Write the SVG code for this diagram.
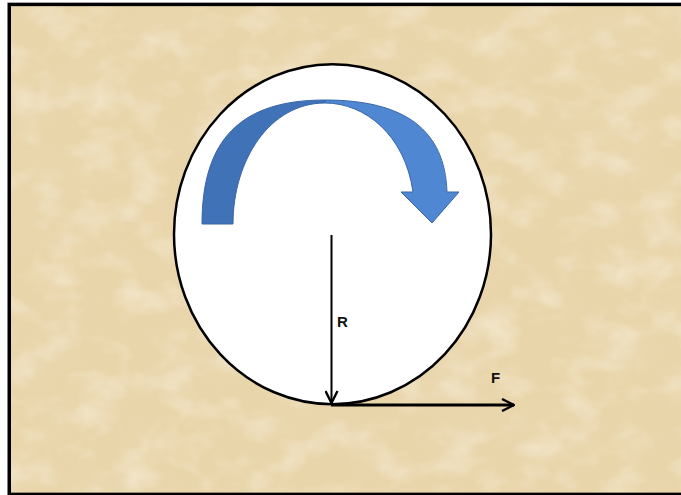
<svg xmlns="http://www.w3.org/2000/svg" width="681" height="495" viewBox="0 0 681 495">
  <style>
    .lbl { font-family: "Liberation Sans", Arial, sans-serif; font-weight: bold; font-size: 15px; fill: #111; }
    .vec { stroke: #000; fill: none; }
  </style>
  <defs>
    <filter id="paper" x="0" y="0" width="100%" height="100%" filterUnits="objectBoundingBox">
      <feTurbulence type="fractalNoise" baseFrequency="0.012 0.02" numOctaves="4" seed="7" result="n"/>
      <feColorMatrix in="n" type="matrix" values="0 0 0 0 0.82  0 0 0 0 0.69  0 0 0 0 0.46  1.2 0 0 0 -0.55" result="c"/>
      <feComposite in="c" in2="SourceGraphic" operator="in"/>
    </filter>
    <filter id="paper2" x="0" y="0" width="100%" height="100%" filterUnits="objectBoundingBox">
      <feTurbulence type="fractalNoise" baseFrequency="0.025 0.035" numOctaves="3" seed="2" result="n"/>
      <feColorMatrix in="n" type="matrix" values="0 0 0 0 0.96  0 0 0 0 0.91  0 0 0 0 0.80  0 1.0 0 0 -0.45" result="c"/>
      <feComposite in="c" in2="SourceGraphic" operator="in"/>
    </filter>
    <marker id="chev" viewBox="0 0 14 14" refX="13" refY="7" markerWidth="14" markerHeight="14" markerUnits="userSpaceOnUse" orient="auto">
      <path d="M1,1 L13,7 L1,13" fill="none" stroke="#000" stroke-width="2.4" stroke-linejoin="miter"/>
    </marker>
  </defs>

  <rect width="681" height="495" fill="#ffffff"/>
  <g id="background">
    <rect x="9" y="4" width="672" height="490" fill="#e9d5aa"/>
    <rect x="9" y="4" width="672" height="490" fill="#e9d5aa" filter="url(#paper)"/>
    <rect x="9" y="4" width="672" height="490" fill="#e9d5aa" filter="url(#paper2)"/>
    <rect x="9.25" y="4.4" width="680" height="490" fill="none" stroke="#000" stroke-width="3.5"/>
  </g>

  <g id="wheel">
    <ellipse cx="332.5" cy="234.2" rx="158.5" ry="170" fill="#ffffff" stroke="#000" stroke-width="2.5"/>
  </g>

  <g id="rotation-arrow" stroke="#3a66a8" stroke-width="1" stroke-linejoin="round">
    <path d="M202,224 C202,140 240,100 325,100 L325,103 C270,103 233,160 233,224 Z" fill="#4072b8"/>
    <path d="M325,100 C405,100 445,130 447,192 L459,192 L432,223 L401,192 L413,192 C405,135 365,103 325,103 Z" fill="#4f87d2"/>
  </g>

  <g id="connectors">
    <line class="vec" x1="331.5" y1="235" x2="331.5" y2="403" stroke-width="2" marker-end="url(#chev)"/>
    <line class="vec" x1="331" y1="405" x2="514" y2="405" stroke-width="3" marker-end="url(#chev)"/>
  </g>

  <g id="label-R"><text class="lbl" x="337" y="327">R</text></g>
  <g id="label-F"><text class="lbl" x="491" y="383">F</text></g>
</svg>
